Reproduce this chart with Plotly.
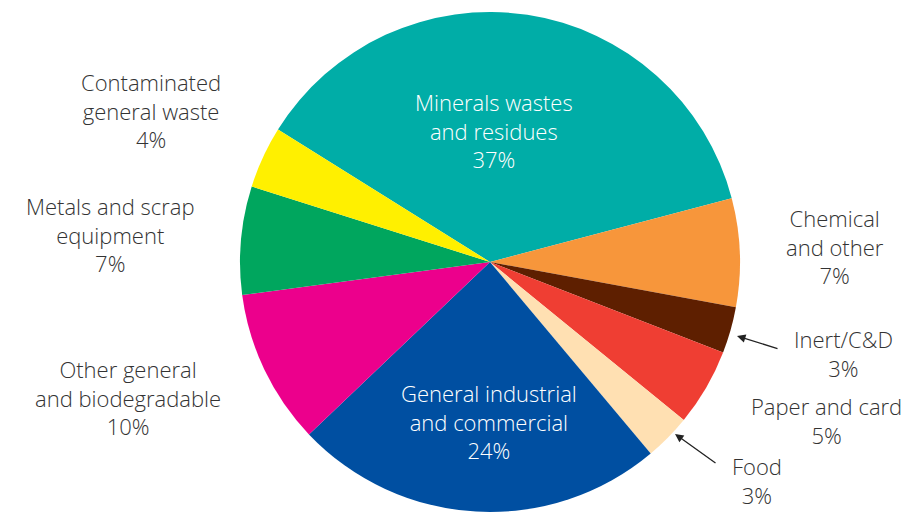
import plotly.graph_objects as go

# Waste categories, clockwise from the top slice
categories = [
    "Minerals wastes and residues",
    "Chemical and other",
    "Inert/C&D",
    "Paper and card",
    "Food",
    "General industrial and commercial",
    "Other general and biodegradable",
    "Metals and scrap equipment",
    "Contaminated general waste",
]
shares = [37, 7, 3, 5, 3, 24, 10, 7, 4]
label_lines = [
    ["Minerals wastes", "and residues"],
    ["Chemical", "and other"],
    ["Inert/C&D"],
    ["Paper and card"],
    ["Food"],
    ["General industrial", "and commercial"],
    ["Other general", "and biodegradable"],
    ["Metals and scrap", "equipment"],
    ["Contaminated", "general waste"],
]
colors = ["#00ADA7", "#F7963B", "#5E1F00", "#EF3E33", "#FFE0B2",
          "#004FA1", "#EC008C", "#00A65E", "#FFF000"]

W, H = 917, 513
CX, CY, R = 490, 262, 250

fig = go.Figure(go.Pie(
    labels=categories,
    values=shares,
    sort=False,
    direction="clockwise",
    rotation=-58,
    marker=dict(colors=colors, line=dict(width=0)),
    textinfo="none",
    hoverinfo="label+percent",
    domain=dict(x=[(CX - R) / W, (CX + R) / W],
                y=[1 - (CY + R) / H, 1 - (CY - R) / H]),
    showlegend=False,
))

# Label block centres (pixels) and text colour
label_pos = [
    (494, 130, "white"),
    (835, 246, "#333333"),
    (843, 353, "#333333"),
    (826, 420, "#333333"),
    (757, 480, "#333333"),
    (489, 421, "white"),
    (128, 397, "#333333"),
    (110, 235, "#333333"),
    (151, 110, "#333333"),
]

annotations = []
for lines, value, (px, py, col) in zip(label_lines, shares, label_pos):
    annotations.append(dict(
        x=px / W, y=1 - py / H, xref="paper", yref="paper",
        text="<br>".join(lines + [f"{value}%"]),
        showarrow=False, xanchor="center", yanchor="middle", align="center",
        font=dict(family="Open Sans", size=22, color=col, weight=300),
    ))

# Leader arrows for the two thin slices
for (hx, hy), (tx, ty) in [((737, 336), (779, 349)), ((675, 434), (717, 464))]:
    annotations.append(dict(
        x=hx / W, y=1 - hy / H, xref="paper", yref="paper",
        ax=tx - hx, ay=ty - hy, axref="pixel", ayref="pixel",
        text="", showarrow=True, arrowhead=2, arrowsize=1.3,
        arrowwidth=1.3, arrowcolor="#222222",
    ))

fig.update_layout(
    width=W, height=H,
    margin=dict(l=0, r=0, t=0, b=0),
    paper_bgcolor="white",
    plot_bgcolor="white",
    annotations=annotations,
)

fig.write_html("out.html")
